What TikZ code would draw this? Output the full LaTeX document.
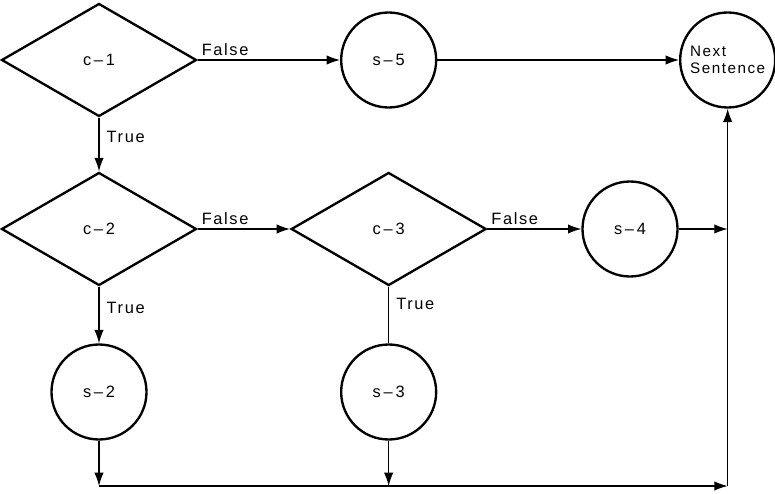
\documentclass[tikz,border=0pt]{standalone}
\usepackage{fontspec}
\setmainfont{Liberation Sans}[LetterSpace=10]
\usepackage{tikz}
\usetikzlibrary{arrows.meta, shapes.geometric}
\tikzset{>={Latex[length=4mm,width=2.8mm]}}
\tikzset{
  condNode/.style={shape=diamond,draw=black,line width=2pt,minimum width=5.85cm,minimum height=3.39cm,inner sep=0pt,font=\fontsize{14}{16}\selectfont},
  stmtNode/.style={circle,draw=black,line width=2pt,minimum size=2.85cm,inner sep=0pt,font=\fontsize{14}{16}\selectfont,align=left},
  nextLbl/.style={font=\fontsize{13}{15}\selectfont},
  flowLink/.style={draw=black,->,line width=1pt},
  plainLink/.style={draw=black,-,line width=1pt},
  branchLbl/.style={draw=none,inner sep=3pt,font=\fontsize{14}{16}\selectfont}
}

\begin{document}
\begin{tikzpicture}
        \useasboundingbox (0,0) rectangle (23.25,-14.82);

        \node (c1) [condNode] at (2.97,-1.80) {c\,--\,1};
        \node (c2) [condNode] at (2.97,-6.87) {c\,--\,2};
        \node (c3) [condNode] at (11.66,-6.87) {c\,--\,3};
        \node (s5) [stmtNode] at (11.66,-1.80) {s\,--\,5};
        \node (next) [stmtNode, nextLbl] at (21.83,-1.80) {Next\\Sentence};
        \node (s4) [stmtNode] at (18.90,-6.87) {s\,--\,4};
        \node (s2) [stmtNode] at (2.97,-11.76) {s\,--\,2};
        \node (s3) [stmtNode] at (11.66,-11.76) {s\,--\,3};
        \coordinate (corner) at (next.south |- 0,-14.58);

         \path
    (c1.east) edge [flowLink] node[branchLbl, pos=0, anchor=south west] {False} (s5.west)
    (s5.east) edge [flowLink] (next.west)
    (c1.south) edge [flowLink] node[branchLbl, pos=0.36, anchor=west, xshift=3pt] {True} (c2.north)
    (c2.east) edge [flowLink] node[branchLbl, pos=0, anchor=south west] {False} (c3.west)
    (c3.east) edge [flowLink] node[branchLbl, pos=0, anchor=south west] {False} (s4.west)
    (c2.south) edge [flowLink] node[branchLbl, pos=0.38, anchor=west, xshift=3pt] {True} (s2.north)
    (c3.south) edge [plainLink] node[branchLbl, pos=0.3, anchor=west, xshift=3pt] {True} (s3.north)
    (s4.east) edge [flowLink] (s4.east -| corner)
    (s2.south) edge [flowLink] (s2.south |- corner)
    (s3.south) edge [flowLink] (s3.south |- corner)
    (s2.south |- corner) edge [flowLink] (corner)
    (corner) edge [flowLink] (next.south);

\end{tikzpicture}
\end{document}
